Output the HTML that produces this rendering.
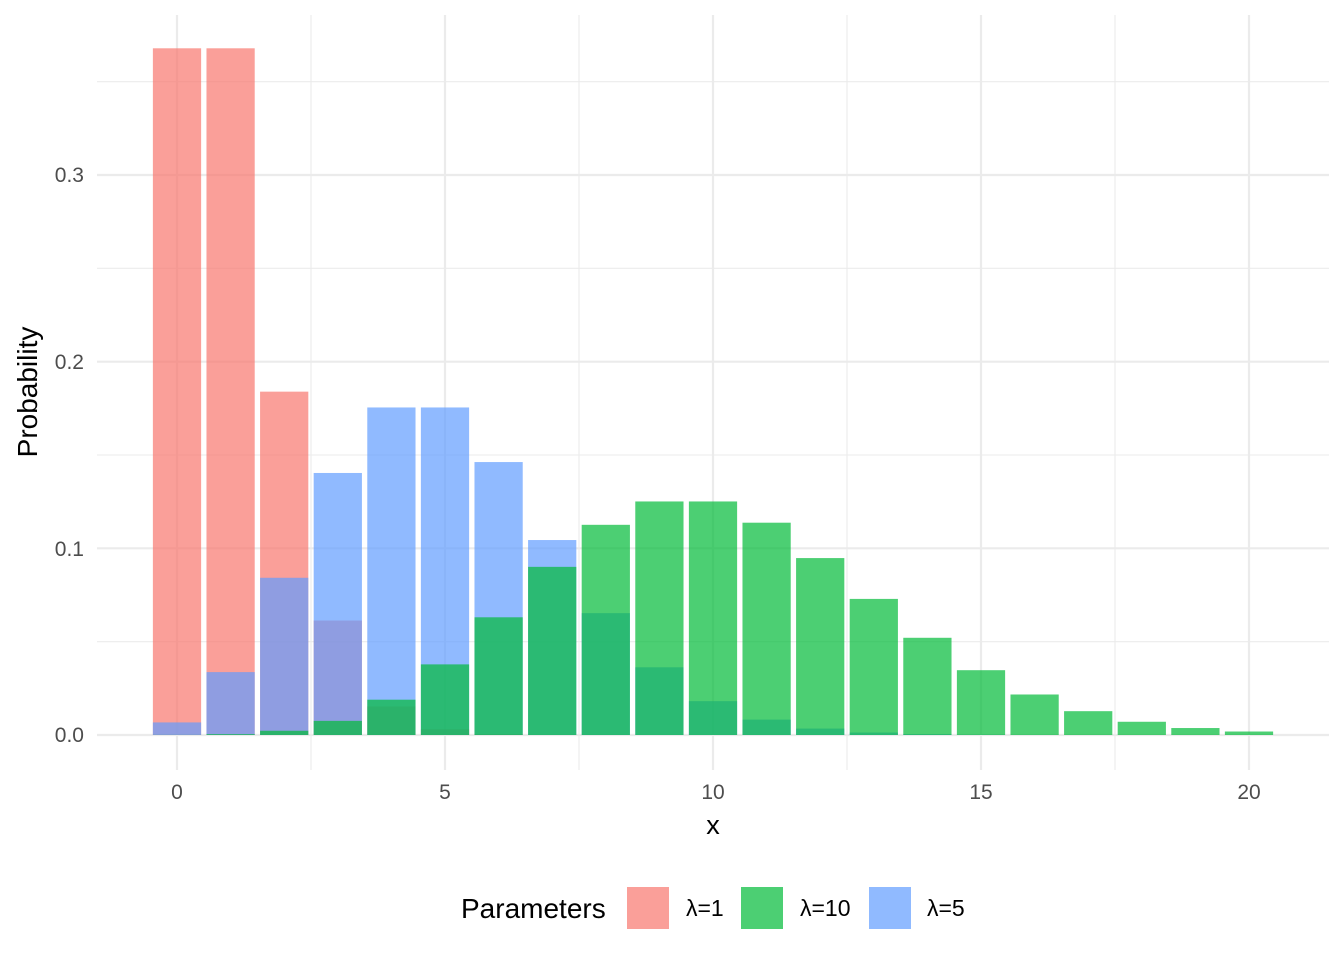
<!DOCTYPE html>
<html><head><meta charset="utf-8"><style>
body{margin:0;background:#fff}
svg{display:block;font-family:"Liberation Sans",sans-serif}
</style></head><body>
<svg id="s" width="1344" height="960" xmlns="http://www.w3.org/2000/svg">
<g stroke="#EBEBEB" stroke-width="1.1">
<line x1="97" x2="1329" y1="641.7" y2="641.7"/><line x1="97" x2="1329" y1="455" y2="455"/><line x1="97" x2="1329" y1="268.3" y2="268.3"/><line x1="97" x2="1329" y1="81.7" y2="81.7"/>
<line y1="15" y2="770" x1="311" x2="311"/><line y1="15" y2="770" x1="579" x2="579"/><line y1="15" y2="770" x1="847" x2="847"/><line y1="15" y2="770" x1="1115" x2="1115"/>
</g>
<g stroke="#EBEBEB" stroke-width="2.2">
<line x1="97" x2="1329" y1="735" y2="735"/><line x1="97" x2="1329" y1="548.3" y2="548.3"/><line x1="97" x2="1329" y1="361.7" y2="361.7"/><line x1="97" x2="1329" y1="175" y2="175"/>
<line y1="15" y2="770" x1="177" x2="177"/><line y1="15" y2="770" x1="445" x2="445"/><line y1="15" y2="770" x1="713" x2="713"/><line y1="15" y2="770" x1="981" x2="981"/><line y1="15" y2="770" x1="1249" x2="1249"/>
</g>
<g id="bars"></g>
<g fill="#4D4D4D" font-size="21" text-anchor="end">
<text x="84" y="742">0.0</text><text x="84" y="556">0.1</text><text x="84" y="369">0.2</text><text x="84" y="182">0.3</text>
</g>
<g fill="#4D4D4D" font-size="21" text-anchor="middle">
<text x="177" y="799">0</text><text x="445" y="799">5</text><text x="713" y="799">10</text><text x="981" y="799">15</text><text x="1249" y="799">20</text>
</g>
<text x="713" y="834" font-size="27" text-anchor="middle">x</text>
<text transform="translate(37,392) rotate(-90)" font-size="28" text-anchor="middle">Probability</text>
<text x="461" y="918" font-size="28">Parameters</text>
<rect x="627" y="887" width="42" height="42" fill="#F8766D" fill-opacity="0.7"/>
<text x="686" y="916" font-size="23">λ=1</text>
<rect x="741" y="887" width="42" height="42" fill="#00BA38" fill-opacity="0.7"/>
<text x="800" y="916" font-size="23">λ=10</text>
<rect x="869" y="887" width="42" height="42" fill="#619CFF" fill-opacity="0.7"/>
<text x="927" y="916" font-size="23">λ=5</text>
</svg>
<script>
function pois(l){var a=[],p=Math.exp(-l);for(var k=0;k<=20;k++){if(k>0)p*=l/k;a.push(p);}return a;}
var g=document.getElementById('bars'),ns="http://www.w3.org/2000/svg";
[[1,"#F8766D"],[5,"#619CFF"],[10,"#00BA38"]].forEach(function(s){
 pois(s[0]).forEach(function(p,k){
  var r=document.createElementNS(ns,'rect');
  var cx=177+53.6*k,h=p*1866.67;
  r.setAttribute('x',cx-24.12);r.setAttribute('width',48.24);
  r.setAttribute('y',735-h);r.setAttribute('height',h);
  r.setAttribute('fill',s[1]);r.setAttribute('fill-opacity',0.7);
  g.appendChild(r);
 });
});
</script>
</body></html>
